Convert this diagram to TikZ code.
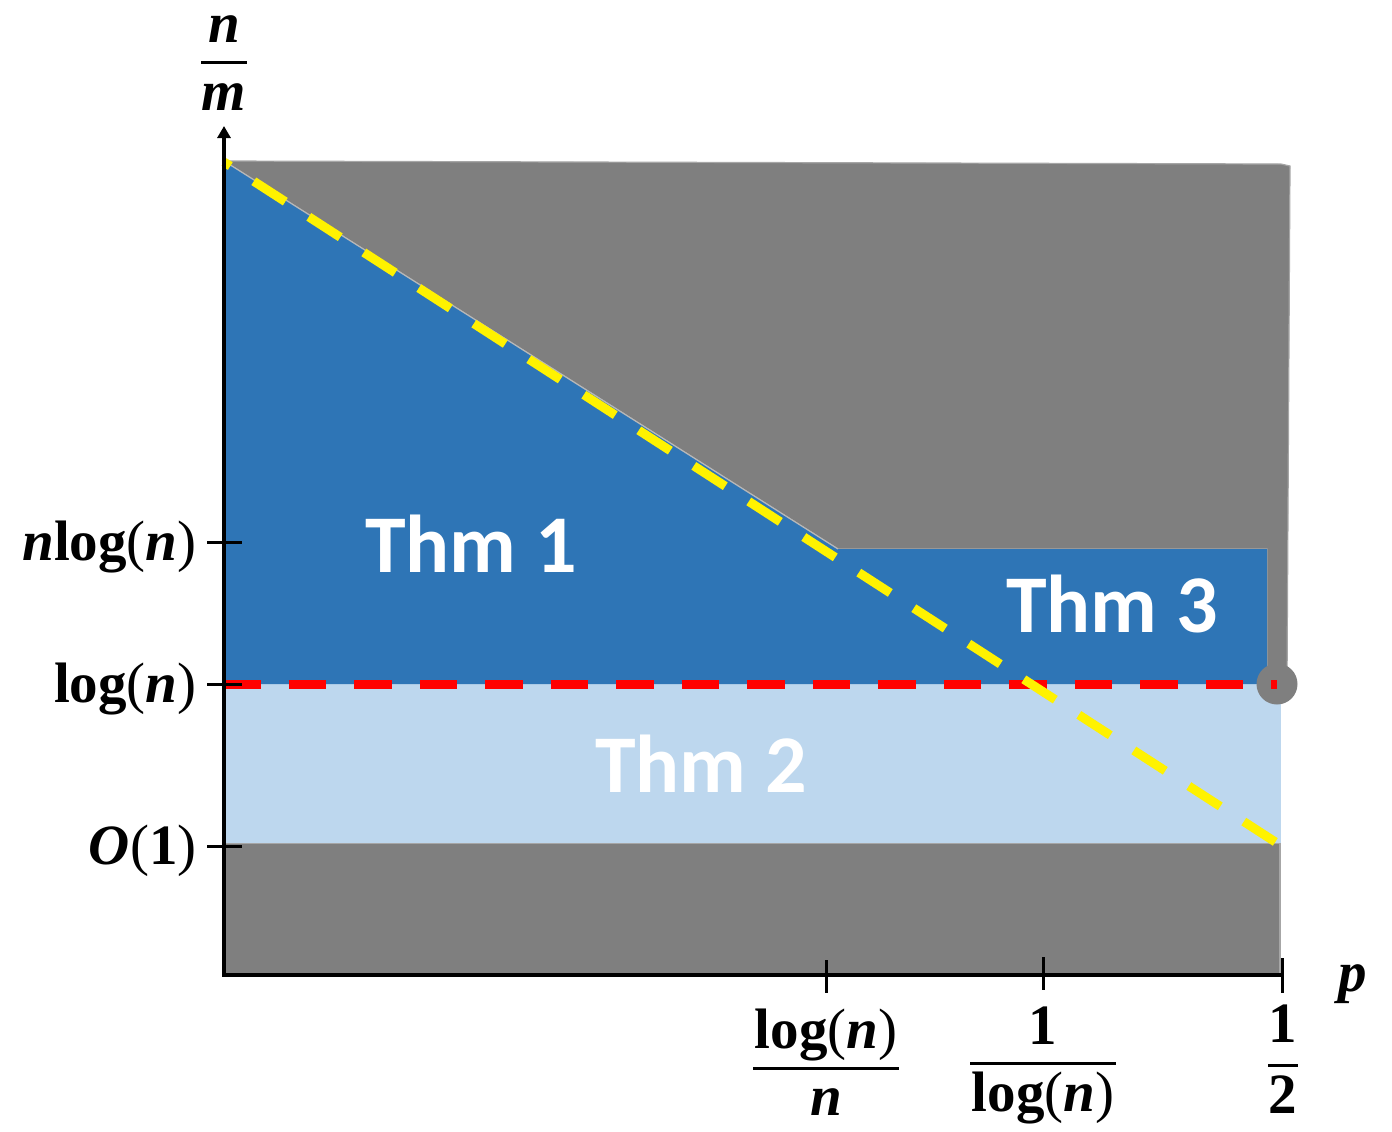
\documentclass[tikz,border=0pt]{standalone}
\usepackage{fontspec}
\setmainfont{Liberation Serif}
\newfontfamily\thmfont{Carlito}
\usetikzlibrary{arrows.meta}
\definecolor{regiongray}{HTML}{7F7F7F}
\definecolor{thmblue}{HTML}{2E75B6}
\definecolor{lightblue}{HTML}{BDD7EE}
\definecolor{edgegray}{HTML}{A6A6A6}
\newcommand{\bi}[1]{\textbf{\textit{#1}}}
\newcommand{\lgn}{\textbf{log}(\bi{n})}
\begin{document}
\begin{tikzpicture}[x=0.5pt,y=-0.5pt,
  thmlabel/.style={text=white, font=\thmfont\bfseries\fontsize{41}{46}\selectfont, anchor=base, inner sep=0pt},
  axlabel/.style={font=\fontsize{28.5}{32}\selectfont, inner sep=0pt, text=black},
  tickline/.style={line width=1.5pt},
  axisline/.style={line width=2pt},
  fracbar/.style={line width=1.5pt},
  dashline/.style={line width=4.5pt, dash pattern=on 18.75pt off 14pt}]
\useasboundingbox (0,0) rectangle (1392,1131);
% regions
\fill[regiongray] (224,843) rectangle (1280,975);
\draw[edgegray, line width=0.6pt] (224,843) -- (1280,843) -- (1280,975);
\fill[lightblue] (224,684) rectangle (1281,843);
\filldraw[fill=regiongray, draw=edgegray, line width=0.6pt] (224,161) -- (1281,164) -- (1290,166) -- (1287,684) -- (1267,684) -- (1267,549) -- (838,549) -- cycle;
\fill[thmblue] (224,161) -- (838,549) -- (1267,549) -- (1267,684) -- (224,684) -- cycle;
\draw[edgegray!80, line width=0.6pt] (224,161) -- (838,549);
\fill[regiongray] (1277,684) circle[radius=10.25pt];
% dashed lines
\draw[red, dashline] (223,684) -- (1277,684);
\draw[yellow, dashline, dash phase=15pt] (224,162) -- (1280,845);
% axes
\coordinate (O) at (224,975);
\coordinate (ytop) at (224,126);
\coordinate (xend) at (1282,975);
\draw[axisline, -{Triangle[length=6pt,width=6.5pt]}] (224,976) -- (ytop);
\draw[axisline] (222,975) -- (xend);
% x ticks
\draw[tickline] (826,960) -- (826,993);
\draw[tickline] (1043,957) -- (1043,990);
\draw[tickline] (1282,958) -- (1282,993);
% y ticks
\draw[tickline] (207,542) -- (242,542);
\draw[tickline] (207,684) -- (242,684);
\draw[tickline] (207,846) -- (242,846);
% y labels
\node[axlabel, anchor=base east] (lnlog) at (197,560) {\bi{n}\textbf{log}(\bi{n})};
\node[axlabel, anchor=base east] (llog) at (197,702) {\lgn};
\node[axlabel, anchor=base east] (lO) at (197,864) {\bi{O}(\textbf{1})};
% y axis title n/m
\node[axlabel, anchor=base] (ynum) at (224,42) {\bi{n}};
\draw[fracbar] (201,62) -- (247,62);
\node[axlabel, anchor=base] (yden) at (224,110) {\bi{m}};
% x labels
\node[axlabel, anchor=base] (aNum) at (826,1048) {\lgn};
\draw[fracbar] (753,1068) -- (899,1068);
\node[axlabel, anchor=base] (aDen) at (826,1115) {\bi{n}};
\node[axlabel, anchor=base] (bNum) at (1043,1044) {\textbf{1}};
\draw[fracbar] (970,1063) -- (1116,1063);
\node[axlabel, anchor=base] (bDen) at (1043,1111) {\lgn};
\node[axlabel, anchor=base] (cNum) at (1283,1042) {\textbf{1}};
\draw[fracbar] (1268,1065) -- (1298,1065);
\node[axlabel, anchor=base] (cDen) at (1283,1113) {\textbf{2}};
\node[axlabel, anchor=base] (plabel) at (1353,991) {\bi{p}};
% theorem labels
\node[thmlabel] (t1) at (471,572) {Thm 1};
\node[thmlabel] (t2) at (701,792) {Thm 2};
\node[thmlabel] (t3) at (1112,632) {Thm 3};
\end{tikzpicture}
\end{document}
